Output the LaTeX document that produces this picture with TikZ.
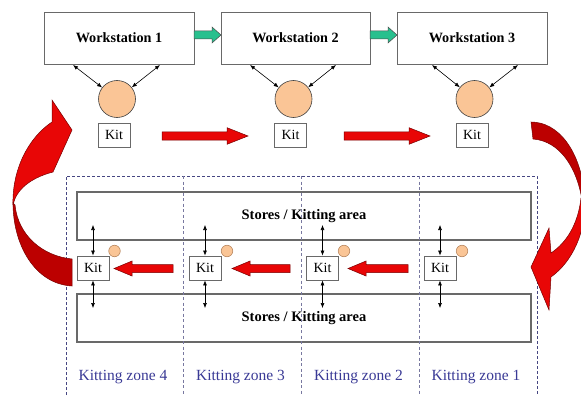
\documentclass[tikz,border=0pt]{standalone}
\usepackage{fontspec}
\setmainfont{Liberation Serif}
\usetikzlibrary{arrows.meta,calc}

\definecolor{boxgray}{RGB}{105,105,105}
\definecolor{peach}{RGB}{250,197,150}
\definecolor{peachline}{RGB}{185,135,95}
\definecolor{flowgreen}{RGB}{40,192,142}
\definecolor{blockred}{RGB}{232,6,6}
\definecolor{deepred}{RGB}{188,0,0}
\definecolor{edgered}{RGB}{120,0,0}
\definecolor{zoneblue}{RGB}{58,58,150}
\definecolor{zoneline}{RGB}{70,70,130}
\definecolor{divline}{RGB}{120,120,160}

% horizontal block arrow: style, tail x, head base x, centre y, half shaft, half head, tip x
\newcommand{\blockarrow}[7]{%
  \filldraw[#1] (#2,#4-#5) -- (#3,#4-#5) -- (#3,#4-#6) -- (#7,#4)
    -- (#3,#4+#6) -- (#3,#4+#5) -- (#2,#4+#5) -- cycle;}

\begin{document}
\begin{tikzpicture}[x=1pt,y=-1pt,
  wsbox/.style={draw=boxgray, line width=0.9pt, minimum width=150pt,
    minimum height=52pt, inner sep=0pt,
    font=\fontsize{14.2}{16}\selectfont\bfseries},
  kitbox/.style={draw=boxgray, line width=0.9pt, minimum width=32pt,
    minimum height=24pt, inner sep=0pt, font=\fontsize{14}{16}\selectfont},
  storebox/.style={draw=boxgray, line width=1.2pt, minimum width=454pt,
    minimum height=48pt, inner sep=0pt,
    font=\fontsize{14.5}{16}\selectfont\bfseries},
  kitdisc/.style={circle, draw=black!75, fill=peach, line width=0.6pt,
    minimum size=37pt, inner sep=0pt},
  smalldisc/.style={circle, draw=peachline, fill=peach, line width=0.6pt,
    minimum size=11.5pt, inner sep=0pt},
  dbl/.style={{Latex[length=5pt,width=4pt]}-{Latex[length=5pt,width=4pt]},
    line width=0.6pt},
  redblock/.style={fill=blockred, draw=edgered, line width=0.5pt},
  greenblock/.style={fill=flowgreen, draw=black!70, line width=0.5pt},
  zonelabel/.style={text=zoneblue, font=\fontsize{15.5}{17}\selectfont},
  curvelight/.style={fill=blockred, draw=edgered, line width=0.5pt},
  curvedark/.style={fill=deepred, draw=edgered, line width=0.5pt}]

\useasboundingbox (0,0) rectangle (581,396);
\clip (0,0) rectangle (581,396);
\fill[white] (0,0) rectangle (581,396);

% workstations
\node[wsbox] (ws1) at (119,38) {Workstation 1};
\node[wsbox, minimum width=149pt] (ws2) at (295.5,38) {Workstation 2};
\node[wsbox] (ws3) at (472,38) {Workstation 3};

\blockarrow{greenblock}{194}{212}{35}{4}{8}{221}
\blockarrow{greenblock}{370}{388}{35}{4}{8}{397}

% kit carriers at the workstations
\node[kitdisc] (c1) at (117,99) {};
\node[kitdisc] (c2) at (293.5,99) {};
\node[kitdisc] (c3) at (474.5,99) {};

\coordinate (w1a) at (73,65);   \coordinate (w1b) at (160,65);
\coordinate (w2a) at (250,65);  \coordinate (w2b) at (336,65);
\coordinate (w3a) at (432,65);  \coordinate (w3b) at (518,65);
\draw[dbl] (w1a) -- (c1);  \draw[dbl] (w1b) -- (c1);
\draw[dbl] (w2a) -- (c2);  \draw[dbl] (w2b) -- (c2);
\draw[dbl] (w3a) -- (c3);  \draw[dbl] (w3b) -- (c3);

\node[kitbox] (t1) at (114,135) {Kit};
\node[kitbox] (t2) at (290.5,135) {Kit};
\node[kitbox] (t3) at (472,135) {Kit};

\blockarrow{redblock}{162}{227}{136}{4.2}{8.3}{248}
\blockarrow{redblock}{344}{409}{136}{4.2}{8.3}{430}

% kitting zones
\node[storebox] (s1) at (304,216) {Stores / Kitting area};
\node[storebox] (s2) at (304,318) {Stores / Kitting area};

\draw[zoneline, line width=0.8pt, dash pattern=on 3pt off 2pt]
  (66,410) -- (66,176) -- (537,176) -- (537,410);
\foreach \xd in {183,301,419}
  \draw[divline, line width=0.7pt, dash pattern=on 3pt off 2.5pt] (\xd,176) -- (\xd,410);

\node[kitbox] (k4) at (93,268) {Kit};
\node[kitbox] (k3) at (205,268) {Kit};
\node[kitbox] (k2) at (322.5,268) {Kit};
\node[kitbox] (k1) at (440,268) {Kit};

\node[smalldisc] (d4) at (114.5,251) {};
\node[smalldisc] (d3) at (227,251) {};
\node[smalldisc] (d2) at (344,251) {};
\node[smalldisc] (d1) at (462,251) {};

\foreach \k/\xk in {k4/93,k3/205,k2/322.5,k1/440}{
  \coordinate (\k up) at (\xk,225);
  \coordinate (\k dn) at (\xk,308);
  \draw[dbl] (\k up) -- (\k);
  \draw[dbl] (\k) -- (\k dn);
}

\blockarrow{redblock}{173}{132}{268.5}{4}{7.5}{114}
\blockarrow{redblock}{290}{250}{268.5}{4}{7.5}{232}
\blockarrow{redblock}{408}{366}{268.5}{4}{7.5}{348}

\node[zonelabel] (z4) at (123,377) {Kitting zone 4};
\node[zonelabel] (z3) at (240.5,377) {Kitting zone 3};
\node[zonelabel] (z2) at (358.5,377) {Kitting zone 2};
\node[zonelabel] (z1) at (476,377) {Kitting zone 1};

% return loop on the left: from zone 4 back up to the line
\filldraw[curvedark] (13,203) .. controls (13,245) and (35,284) .. (72,286)
  -- (72,259) .. controls (42,256) and (18,235) .. (15,205) -- cycle;
\filldraw[curvelight] (52,100) -- (72,130) -- (53,172)
  .. controls (30,178) and (16,190) .. (13,205)
  .. controls (12,170) and (28,138) .. (52,122) -- cycle;

% feed loop on the right: from the line down to zone 1
\filldraw[curvedark] (531,122) .. controls (558,122) and (581,150) .. (585,198)
  -- (582,200) .. controls (577,168) and (560,141) .. (533,139) -- cycle;
\filldraw[curvelight] (585,195) .. controls (587,232) and (572,262) .. (551,277)
  -- (549,310) -- (531,267) -- (549,228) -- (551,253)
  .. controls (566,243) and (578,225) .. (581,198) -- cycle;
\end{tikzpicture}
\end{document}
